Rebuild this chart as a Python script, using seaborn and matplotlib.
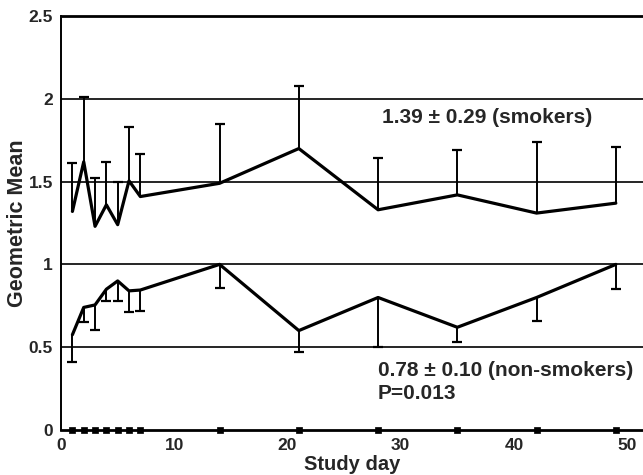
import numpy as np
import pandas as pd
import matplotlib
matplotlib.use("Agg")
import matplotlib.pyplot as plt
import seaborn as sns

# Study days and geometric means with one-sided SD bars
days = [1, 2, 3, 4, 5, 6, 7, 14, 21, 28, 35, 42, 49]
smokers_mean = [1.32, 1.62, 1.23, 1.36, 1.24, 1.505, 1.41, 1.49, 1.70, 1.33, 1.42, 1.31, 1.37]
smokers_upper = [1.61, 2.01, 1.52, 1.62, 1.50, 1.83, 1.67, 1.85, 2.08, 1.64, 1.69, 1.74, 1.71]
nonsmokers_mean = [0.575, 0.74, 0.755, 0.85, 0.90, 0.84, 0.845, 1.00, 0.60, 0.80, 0.62, 0.80, 1.00]
nonsmokers_lower = [0.41, 0.65, 0.605, 0.78, 0.78, 0.715, 0.72, 0.86, 0.47, 0.50, 0.53, 0.66, 0.85]

ytick_vals = [0, 0.5, 1, 1.5, 2, 2.5]
ytick_labels = ["0", "0.5", "1", "1.5", "2", "2.5"]
xtick_vals = [0, 10, 20, 30, 40, 50]

sns.set_style("white")
plt.rcParams["font.family"] = ["Liberation Sans", "DejaVu Sans"]
plt.rcParams["font.weight"] = "bold"

df = pd.DataFrame({
    "day": days * 2,
    "value": smokers_mean + nonsmokers_mean,
    "group": ["smokers"] * len(days) + ["non-smokers"] * len(days),
})

fig = plt.figure(figsize=(6.43, 4.75), dpi=100)
ax = fig.add_axes([0.095, 0.095, 0.905, 0.871])

# reference lines
for yv in [0.5, 1, 1.5, 2]:
    ax.axhline(yv, color="black", lw=1.2, zorder=1)
ax.axhline(2.5, color="black", lw=2.0, zorder=1, clip_on=False)

# one-sided error bars: stem from the mean, cap only at the far end
ax.vlines(days, smokers_mean, smokers_upper, color="black", lw=1.4, zorder=2)
ax.vlines(days, nonsmokers_lower, nonsmokers_mean, color="black", lw=1.4, zorder=2)
ax.plot(days, smokers_upper, ls="none", marker="_", ms=7, mew=1.6, color="black", zorder=2)
ax.plot(days, nonsmokers_lower, ls="none", marker="_", ms=7, mew=1.6, color="black", zorder=2)

sns.lineplot(data=df, x="day", y="value", units="group", estimator=None,
             color="black", lw=2.3, legend=False, ax=ax, zorder=3)

# sampling days along the baseline
sns.scatterplot(x=days, y=[0] * len(days), marker="s", s=14, color="black",
                edgecolor="black", linewidth=0.5, ax=ax, zorder=4, clip_on=False)

ax.set_xlim(0, 51.4)
ax.set_ylim(0, 2.5)
ax.set_xticks(xtick_vals)
ax.set_xticklabels([str(v) for v in xtick_vals], fontsize=12.5, fontweight="bold")
ax.set_yticks(ytick_vals)
ax.set_yticklabels(ytick_labels, fontsize=12.5, fontweight="bold")
ax.tick_params(axis="both", direction="out", length=4, width=1.4, color="black", pad=2)

for side in ["top", "right"]:
    ax.spines[side].set_visible(False)
ax.spines["left"].set_linewidth(1.4)
ax.spines["bottom"].set_linewidth(2.0)
ax.spines["left"].set_color("black")
ax.spines["bottom"].set_color("black")

ax.set_xlabel("Study day", fontsize=14.5, fontweight="bold", labelpad=1.5)
ax.set_ylabel("Geometric Mean", fontsize=15.5, fontweight="bold", labelpad=0.5)

ax.text(37.6, 1.89, "1.39 ± 0.29 (smokers)", fontsize=15, fontweight="bold",
        ha="center", va="center")
ax.text(28.0, 0.36, "0.78 ± 0.10 (non-smokers)", fontsize=15, fontweight="bold",
        ha="left", va="center")
ax.text(28.0, 0.22, "P=0.013", fontsize=15, fontweight="bold",
        ha="left", va="center")

fig.savefig("out.png", dpi=100)
